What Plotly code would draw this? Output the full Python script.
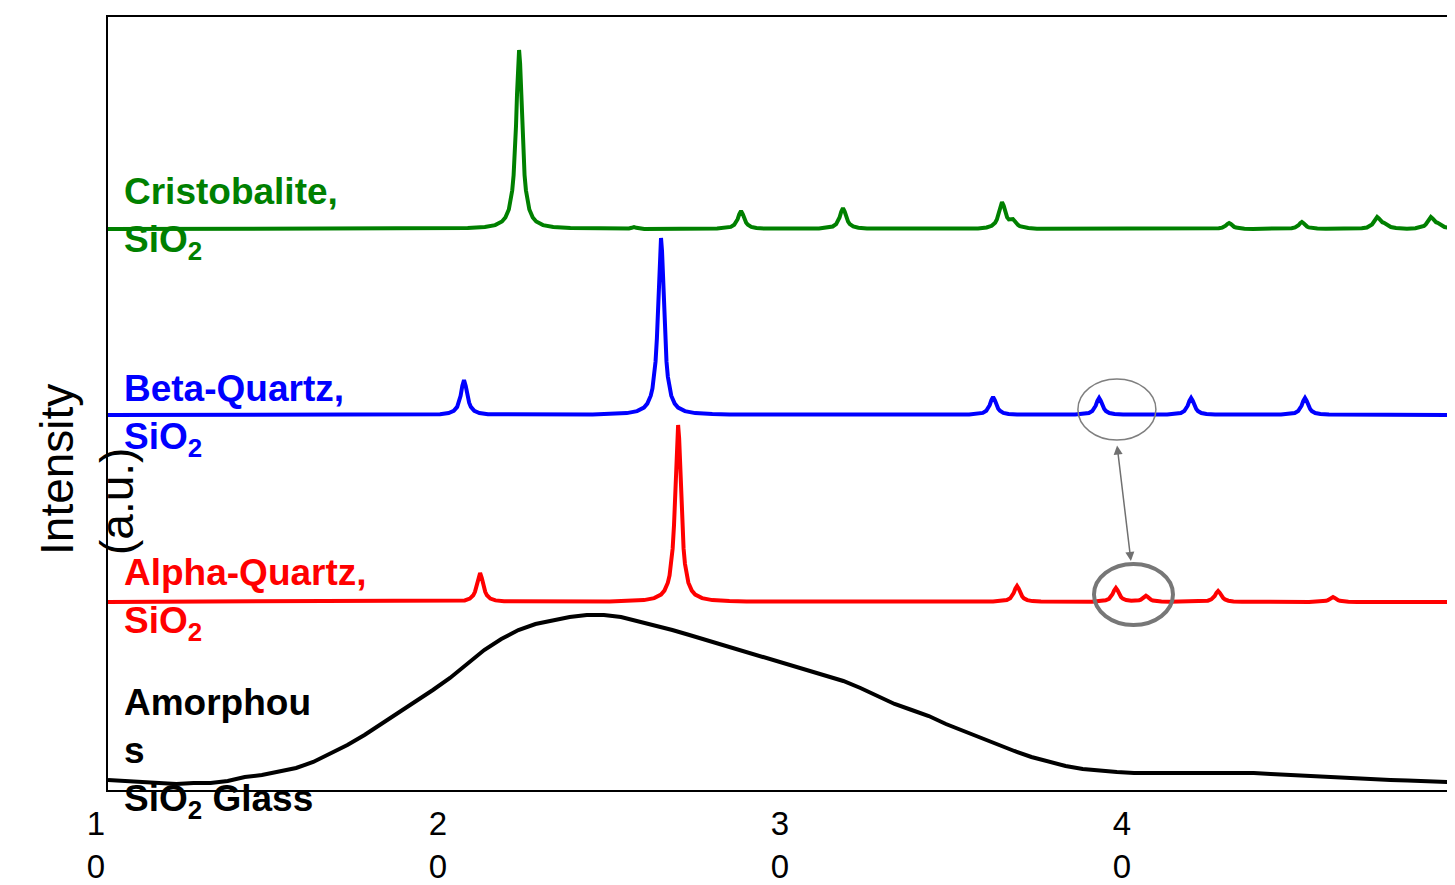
import plotly.graph_objects as go

# ---------------- data (2-theta in degrees, intensity in a.u.) ----------------
tick_vals = [10, 20, 30, 40]
tick_text = ["1<br>0", "2<br>0", "3<br>0", "4<br>0"]

series_names = ["Cristobalite, SiO2", "Beta-Quartz, SiO2", "Alpha-Quartz, SiO2", "Amorphous SiO2 Glass"]
series_offsets = [561, 375, 188, 0]

cristobalite_x = [10, 20.02, 20.52, 21.02, 21.32, 21.52, 21.62, 21.72, 21.77, 21.82, 21.86, 21.90, 21.93, 21.96, 21.99,
                  22.02, 22.05, 22.08, 22.11, 22.14, 22.18, 22.22, 22.27, 22.32, 22.42, 22.52, 22.72, 23.02, 23.52, 24.02,
                  25.08, 25.23, 25.31, 25.38, 25.45, 25.53, 25.68,
                  27.81, 28.06, 28.21, 28.31, 28.36, 28.41, 28.46, 28.51, 28.56, 28.61, 28.66, 28.71, 28.81, 28.96, 29.21,
                  30.79, 31.04, 31.19, 31.29, 31.34, 31.39, 31.44, 31.49, 31.54, 31.59, 31.64, 31.69, 31.79, 31.94, 32.19,
                  35.44, 35.69, 35.84, 35.94, 35.99, 36.04, 36.09, 36.14, 36.19, 36.24, 36.29, 36.34, 36.40, 36.46,
                  36.51, 36.56, 36.61, 36.66, 36.76, 36.91, 37.16,
                  42.08, 42.33, 42.48, 42.58, 42.63, 42.68, 42.73, 42.78, 42.83, 42.88, 42.93, 42.98, 43.08, 43.23, 43.48,
                  44.21, 44.46, 44.61, 44.71, 44.76, 44.81, 44.86, 44.91, 44.96, 45.01, 45.06, 45.11, 45.21, 45.36, 45.61,
                  46.41, 46.66, 46.81, 46.91, 46.96, 47.01, 47.06, 47.11, 47.16, 47.21, 47.26, 47.31, 47.36, 47.41,
                  47.51, 47.66, 47.91,
                  47.98, 48.23, 48.38, 48.48, 48.53, 48.58, 48.63, 48.68, 48.73, 48.78, 48.83, 48.88, 48.93, 48.98,
                  49.08, 49.23, 49.48, 50]
cristobalite_y = [0, 0.5, 0.9, 2.0, 3.9, 7.5, 11.5, 19.5, 26.9, 38.7, 53.9, 77.7, 103.2, 135, 165.5,
                  179, 165.5, 135, 103.2, 77.7, 53.9, 38.7, 26.9, 19.5, 11.5, 7.5, 3.9, 2.0, 0.9, 0.5,
                  0, 0.5, 1.2, 2, 1.2, 0.5, 0,
                  0.4, 1.0, 2.1, 4.2, 6.3, 9.8, 14.9, 18, 14.9, 9.8, 6.3, 4.2, 2.1, 1.0, 0.4,
                  0.5, 1.2, 2.5, 4.9, 7.4, 11.5, 17.4, 21, 17.4, 11.5, 7.4, 4.9, 2.5, 1.2, 0.5,
                  0.6, 1.5, 3.2, 6.3, 9.5, 14.8, 22.4, 27, 23.4, 16.2, 11.6, 9.5, 9.5, 9.9,
                  8.0, 5.5, 4.0, 2.8, 1.7, 1.0, 0.3,
                  0.1, 0.3, 0.7, 1.4, 2.1, 3.3, 5.0, 6, 5.0, 3.3, 2.1, 1.4, 0.7, 0.3, 0.1,
                  0.2, 0.4, 0.8, 1.6, 2.5, 3.8, 5.8, 7, 5.8, 3.8, 2.5, 1.6, 0.8, 0.4, 0.2,
                  0.3, 0.7, 1.5, 3.0, 4.6, 7.0, 10.3, 12, 10.5, 8.0, 6.8, 6.2, 5.0, 3.6,
                  2.0, 1.0, 0.4,
                  0.3, 0.7, 1.5, 3.0, 4.6, 7.0, 10.3, 12, 10.5, 8.0, 6.8, 6.2, 5.0, 3.6,
                  2.0, 1.0, 0.4, 0]

beta_x = [10, 19.71, 19.96, 20.11, 20.21, 20.26, 20.31, 20.36, 20.41, 20.46, 20.51, 20.56, 20.61, 20.71, 20.86, 21.11,
          24.17, 24.67, 25.17, 25.47, 25.67, 25.77, 25.87, 25.92, 25.97, 26.01, 26.05, 26.08, 26.11, 26.14,
          26.17, 26.20, 26.23, 26.26, 26.29, 26.33, 26.37, 26.42, 26.47, 26.57, 26.67, 26.87, 27.17, 27.67, 28.17,
          35.18, 35.43, 35.58, 35.68, 35.73, 35.78, 35.83, 35.88, 35.93, 35.98, 36.03, 36.08, 36.18, 36.33, 36.58,
          38.28, 38.53, 38.68, 38.78, 38.83, 38.88, 38.93, 38.98, 39.03, 39.08, 39.13, 39.18, 39.28, 39.43, 39.68,
          40.97, 41.22, 41.37, 41.47, 41.52, 41.57, 41.62, 41.67, 41.72, 41.77, 41.82, 41.87, 41.97, 42.12, 42.37,
          44.30, 44.55, 44.70, 44.80, 44.85, 44.90, 44.95, 45.00, 45.05, 45.10, 45.15, 45.20, 45.30, 45.45, 45.70, 50]
beta_y = [0, 0.8, 2.0, 4.1, 8.1, 12.3, 19.1, 29.0, 35, 29.0, 19.1, 12.3, 8.1, 4.1, 2.0, 0.8,
          0.5, 0.9, 1.9, 3.9, 7.4, 11.4, 19.3, 26.6, 38.2, 53.3, 76.8, 102.0, 133.5, 163.6,
          177, 163.6, 133.5, 102.0, 76.8, 53.3, 38.2, 26.6, 19.3, 11.4, 7.4, 3.9, 1.9, 0.9, 0.5,
          0.4, 1.0, 2.1, 4.2, 6.3, 9.8, 14.9, 18, 14.9, 9.8, 6.3, 4.2, 2.1, 1.0, 0.4,
          0.4, 1.0, 2.0, 3.9, 6.0, 9.3, 14.1, 17, 14.1, 9.3, 6.0, 3.9, 2.0, 1.0, 0.4,
          0.4, 1.0, 2.0, 3.9, 6.0, 9.3, 14.1, 17, 14.1, 9.3, 6.0, 3.9, 2.0, 1.0, 0.4,
          0.4, 1.0, 2.0, 3.9, 6.0, 9.3, 14.1, 17, 14.1, 9.3, 6.0, 3.9, 2.0, 1.0, 0.4, 0]

alpha_x = [10, 20.18, 20.43, 20.58, 20.68, 20.73, 20.78, 20.83, 20.88, 20.93, 20.98, 21.03, 21.08, 21.18, 21.33, 21.58,
           24.67, 25.17, 25.67, 25.97, 26.17, 26.27, 26.37, 26.42, 26.47, 26.51, 26.55, 26.58, 26.61, 26.64,
           26.67, 26.70, 26.73, 26.76, 26.79, 26.83, 26.87, 26.92, 26.97, 27.07, 27.17, 27.37, 27.67, 28.17, 28.67,
           35.88, 36.13, 36.28, 36.38, 36.43, 36.48, 36.53, 36.58, 36.63, 36.68, 36.73, 36.78, 36.88, 37.03, 37.28,
           38.77, 39.02, 39.17, 39.27, 39.32, 39.37, 39.42, 39.47, 39.52, 39.57, 39.62, 39.67, 39.77, 39.92,
           40.05, 40.15, 40.20, 40.25, 40.30, 40.35, 40.40, 40.45, 40.50, 40.55, 40.65, 40.80, 41.05,
           41.76, 42.01, 42.16, 42.26, 42.31, 42.36, 42.41, 42.46, 42.51, 42.56, 42.61, 42.66, 42.76, 42.91, 43.16,
           45.12, 45.37, 45.52, 45.62, 45.67, 45.72, 45.77, 45.82, 45.87, 45.92, 45.97, 46.02, 46.12, 46.27, 46.52, 50]
alpha_y = [0, 0.7, 1.6, 3.4, 6.7, 10.2, 15.9, 24.0, 29, 24.0, 15.9, 10.2, 6.7, 3.4, 1.6, 0.7,
           0.5, 0.9, 1.9, 3.9, 7.4, 11.4, 19.3, 26.6, 38.2, 53.3, 76.8, 102.0, 133.5, 163.6,
           177, 163.6, 133.5, 102.0, 76.8, 53.3, 38.2, 26.6, 19.3, 11.4, 7.4, 3.9, 1.9, 0.9, 0.5,
           0.4, 0.9, 1.9, 3.7, 5.6, 8.8, 13.3, 16, 13.3, 8.8, 5.6, 3.7, 1.9, 0.9, 0.4,
           0.3, 0.8, 1.7, 3.2, 4.9, 7.7, 11.6, 14, 11.6, 7.7, 5.0, 3.4, 2.0, 1.3,
           1.2, 1.8, 2.4, 3.6, 5.2, 6.2, 5.1, 3.4, 2.2, 1.5, 0.8, 0.4, 0.2,
           0.3, 0.6, 1.3, 2.6, 3.9, 6.0, 9.1, 11, 9.1, 6.0, 3.9, 2.6, 1.3, 0.6, 0.3,
           0.1, 0.3, 0.6, 1.2, 1.8, 2.7, 4.1, 5, 4.1, 2.7, 1.8, 1.2, 0.6, 0.3, 0.1, 0]

amorphous_x = [10, 10.5, 11, 11.5, 12, 12.5, 13, 13.5, 14, 14.5, 15, 15.5, 16, 16.5, 17, 17.5, 18, 18.5,
               19, 19.5, 20, 20.5, 21, 21.5, 22, 22.5, 23, 23.5, 24, 24.5, 25, 25.5, 26, 26.5, 27, 27.5,
               28, 28.5, 29, 29.5, 30, 30.5, 31, 31.5, 32, 32.5, 33, 33.5, 34, 34.5, 35, 35.5, 36, 36.5,
               37, 37.5, 38, 38.5, 39, 39.5, 40, 40.5, 41, 41.5, 42, 42.5, 43, 43.5, 44, 44.5, 45, 45.5,
               46, 46.5, 47, 47.5, 48, 48.5, 49, 49.5]
amorphous_y = [10, 9, 8, 7, 6, 7, 7, 9, 13, 15, 18, 22, 28, 36, 45, 55, 66, 77,
               89, 100, 112, 126, 140, 151, 160, 166, 170, 173, 175, 175, 173, 169, 164, 160, 155, 150,
               144, 139, 134, 130, 125, 120, 115, 109, 102, 94, 86, 80, 74, 66, 59, 52, 45, 39,
               33, 28, 24, 21, 19, 18, 17, 17, 17.5, 18, 18, 17.5, 17.5, 17, 16, 15, 14.5, 14,
               13, 12, 11, 10, 9.5, 9, 8, 7.5]

series_x = [cristobalite_x, beta_x, alpha_x, amorphous_x]
series_y = [cristobalite_y, beta_y, alpha_y, amorphous_y]
series_colors = ["#008000", "#0000FF", "#FF0000", "#000000"]
series_widths = [4, 4, 4, 4]

label_texts = ["Cristobalite,<br>SiO<sub>2</sub>", "Beta-Quartz,<br>SiO<sub>2</sub>",
               "Alpha-Quartz,<br>SiO<sub>2</sub>", "Amorphou<br>s<br>SiO<sub>2</sub> Glass"]
label_tops = [621, 424, 240, 110]

FONT = "Liberation Sans, Arial, sans-serif"

fig = go.Figure()
for xs, ys, off, col, w, name in zip(series_x, series_y, series_offsets, series_colors, series_widths, series_names):
    fig.add_trace(go.Scatter(x=xs, y=[v + off for v in ys], mode="lines",
                             line=dict(color=col, width=w), name=name, showlegend=False,
                             hoverinfo="skip"))

for txt, top, col in zip(label_texts, label_tops, series_colors):
    fig.add_annotation(x=10.41, y=top, xref="x", yref="y", text="<b>" + txt + "</b>",
                       showarrow=False, xanchor="left", yanchor="top", align="left",
                       font=dict(family=FONT, size=37, color=col))

# y-axis title
fig.add_annotation(x=0, y=0.414, xref="paper", yref="paper", xshift=-21,
                   text="Intensity<br>(a.u.)", textangle=-90, showarrow=False,
                   xanchor="center", yanchor="middle", align="left",
                   font=dict(family=FONT, size=46, color="black"))

# highlight ellipses
fig.add_shape(type="circle", xref="x", yref="y", x0=38.36, x1=40.64, y0=350, y1=411,
              line=dict(color="#7f7f7f", width=1.5))
fig.add_shape(type="circle", xref="x", yref="y", x0=38.83, x1=41.14, y0=165, y1=226,
              line=dict(color="#777777", width=4))
# double-headed arrow
fig.add_annotation(x=39.91, y=229, ax=39.50, ay=346, xref="x", yref="y", axref="x", ayref="y",
                   text="", showarrow=True, arrowhead=2, startarrowhead=2, arrowside="end+start",
                   arrowsize=1.2, startarrowsize=1.2, arrowwidth=1.5, arrowcolor="#707070")

fig.update_xaxes(range=[10, 10 + 1347 / 34.2], tickvals=tick_vals, ticktext=tick_text,
                 showline=True, linecolor="black", linewidth=2, mirror=True,
                 showgrid=False, zeroline=False, ticks="", ticklabelshift=-12,
                 ticklabelstandoff=3, automargin=False,
                 tickfont=dict(family=FONT, size=33, color="black"))
fig.update_yaxes(range=[0, 773], showline=True, linecolor="black", linewidth=2,
                 showgrid=False, zeroline=False, showticklabels=False, ticks="", automargin=False)

# page body has an 8 px margin, so the figure is 8 px smaller and margins reduced to match
fig.update_layout(width=1447, height=877, margin=dict(l=100, r=0, t=9, b=95),
                  plot_bgcolor="white", paper_bgcolor="white", showlegend=False)

fig.write_html("out.html")
